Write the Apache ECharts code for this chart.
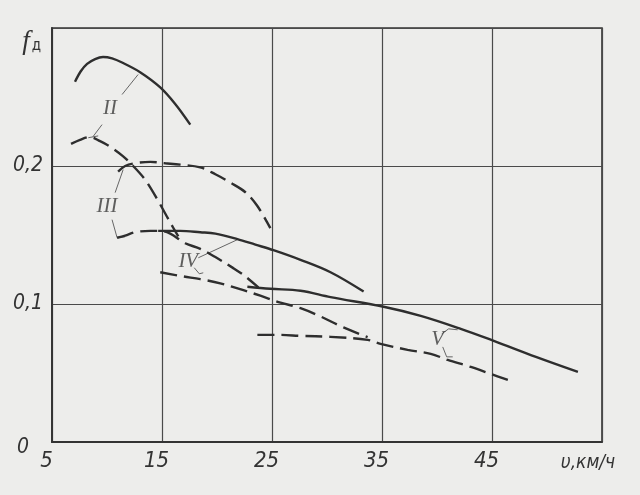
<!DOCTYPE html>
<html>
<head>
<meta charset="utf-8">
<script src="https://cdn.jsdelivr.net/npm/echarts@6/dist/echarts.min.js"></script>
<style>
html,body{margin:0;padding:0;background:#ededeb;}
#c{width:640px;height:495px;}
</style>
</head>
<body>
<div id="c"></div>
<script>
// ---- axis ticks ----
const xTickValues = [5, 15, 25, 35, 45];
const xAxisName = 'υ,км/ч';
const yTickLabels = {0: '0', 1: '0,1', 2: '0,2'};
const yAxisName = ['f', 'д'];

// ---- curves (speed km/h, f_д) ----
const curveII_solid = [[7.09,0.261],[7.6,0.2685],[8.19,0.274],[8.92,0.2775],[9.64,0.279],[10.46,0.278],[11.37,0.275],[13.01,0.268],[14.84,0.257],[16.2,0.245],[17.57,0.230]];
const curveII_dashed = [[6.73,0.216],[7.55,0.219],[8.46,0.221],[9.37,0.218],[10.28,0.214],[11.47,0.207],[12.38,0.200],[13.47,0.190],[14.56,0.176],[15.75,0.159],[16.48,0.149]];
const curveIII_upper = [[11.01,0.196],[11.65,0.200],[12.56,0.202],[13.93,0.203],[15.29,0.202],[16.66,0.201],[18.48,0.199],[19.85,0.194],[21.21,0.188],[22.58,0.181],[23.67,0.171],[24.85,0.155]];
const curveIII_lower = [[10.92,0.148],[11.65,0.1495],[12.56,0.152],[13.93,0.153],[14.84,0.153],[15.75,0.151],[17.11,0.144],[18.48,0.140],[19.85,0.134],[21.48,0.126],[22.58,0.120],[23.76,0.112]];
const curveIV_solid = [[14.65,0.153],[16.66,0.153],[18.48,0.152],[19.85,0.151],[21.85,0.147],[23.49,0.143],[25.13,0.139],[27.59,0.132],[30.32,0.123],[33.33,0.109]];
const curveIV_dashed = [[14.84,0.123],[16.93,0.120],[18.48,0.118],[20.30,0.115],[22.40,0.110],[23.94,0.106],[25.77,0.101],[27.59,0.097],[29.41,0.091],[31.50,0.083],[33.69,0.076]];
const curveV_solid = [[22.76,0.1125],[24.85,0.111],[27.59,0.1096],[30.32,0.105],[35.15,0.098],[38.52,0.0914],[42.16,0.082],[45.16,0.0733],[48.99,0.0617],[52.81,0.0508]];
const curveV_dashed = [[23.67,0.0776],[25.77,0.0776],[27.59,0.0769],[30.32,0.0762],[33.69,0.074],[34.87,0.0711],[37.33,0.0668],[39.43,0.0639],[40.97,0.0595],[43.07,0.0544],[44.89,0.0493],[46.44,0.045]];

// ---- curve labels and leader lines ----
const curveLabels = [
  {name: 'II', value: [10.28, 0.242]},
  {name: 'III', value: [10.01, 0.1705]},
  {name: 'IV', value: [17.39, 0.1306]},
  {name: 'V', value: [40.06, 0.074]}
];
const leaders = [
  [[11.37,0.2518],[12.83,0.2663]],
  [[9.55,0.230],[8.73,0.2213]],
  [[8.3,0.2205],[9.2,0.2218]],
  [[10.74,0.1807],[11.47,0.1974]],
  [[10.46,0.1611],[10.92,0.148],[11.65,0.1487]],
  [[18.30,0.1335],[21.85,0.1466]],
  [[17.93,0.1263],[18.39,0.1219],[18.75,0.1226]],
  [[40.43,0.0784],[41.06,0.082],[41.88,0.0813]],
  [[40.52,0.0689],[40.88,0.0617],[41.43,0.0617]]
];

const FONT = "'Liberation Sans Narrow', 'DejaVu Sans Condensed', sans-serif";
const INK = '#2e2e2e';
const DASH = [17, 7];

function curve(data, dashed) {
  return {
    type: 'line', data: data, smooth: 0.35, symbol: 'none', silent: true,
    lineStyle: {color: INK, width: 2.4, type: dashed ? DASH : 'solid', cap: 'butt'},
    z: 3
  };
}

const series = [
  curve(curveII_solid, false),
  curve(curveII_dashed, true),
  curve(curveIII_upper, true),
  curve(curveIII_lower, true),
  curve(curveIV_solid, false),
  curve(curveIV_dashed, true),
  curve(curveV_solid, false),
  curve(curveV_dashed, true)
];
leaders.forEach(function (seg) {
  series.push({
    type: 'line', data: seg, symbol: 'none', silent: true,
    lineStyle: {color: '#666', width: 1}, z: 2
  });
});
series.push({
  type: 'scatter', data: curveLabels, symbolSize: 1, silent: true,
  itemStyle: {color: 'rgba(0,0,0,0)'},
  label: {show: true, position: 'inside', formatter: '{b}', color: '#3a3a3a',
    fontFamily: "'Liberation Serif', serif", fontStyle: 'italic', fontSize: 21},
  z: 4
});

const chart = echarts.init(document.getElementById('c'), null, {renderer: 'canvas'});
chart.setOption({
  animation: false,
  backgroundColor: '#ededeb',
  grid: {left: 52, top: 28, right: 38, bottom: 53, show: true, borderColor: '#333', borderWidth: 1.6, backgroundColor: 'rgba(0,0,0,0)'},
  xAxis: {
    type: 'value', min: 5, max: 55, interval: 10,
    axisLine: {show: true, lineStyle: {color: '#333', width: 1.8}},
    axisTick: {show: false},
    splitLine: {show: true, lineStyle: {color: '#4a4a4a', width: 1.2}},
    axisLabel: {
      margin: 8, color: '#333',
      formatter: function (v) {
        if (Math.abs(v - 55) < 1e-6) return '{n|' + xAxisName + '}';
        return xTickValues.indexOf(Math.round(v)) >= 0 ? '{t|' + v + '}' : '';
      },
      rich: {
        t: {fontFamily: FONT, fontStyle: 'italic', fontSize: 22, color: '#333', padding: [0, 11, 0, 0]},
        n: {fontFamily: FONT, fontStyle: 'italic', fontSize: 19, color: '#333', padding: [4, 28, 0, 0]}
      }
    }
  },
  yAxis: {
    type: 'value', min: 0, max: 0.3, interval: 0.1,
    axisLine: {show: true, lineStyle: {color: '#333', width: 1.8}},
    axisTick: {show: false},
    splitLine: {show: true, lineStyle: {color: '#4a4a4a', width: 1.2}},
    axisLabel: {
      margin: 9, color: '#333',
      formatter: function (v) {
        const k = Math.round(v * 10);
        if (k === 3) return '{f|' + yAxisName[0] + '}{d|' + yAxisName[1] + '}';
        if (k === 0) return '{z|' + yTickLabels[0] + '}';
        return '{t|' + yTickLabels[k] + '}';
      },
      rich: {
        t: {fontFamily: FONT, fontStyle: 'italic', fontSize: 21, color: '#333'},
        z: {fontFamily: FONT, fontStyle: 'italic', fontSize: 21, color: '#333', padding: [12, 14, 0, 0]},
        f: {fontFamily: "'Liberation Serif', serif", fontStyle: 'italic', fontSize: 27, color: '#333', padding: [28, 2, 0, 0]},
        d: {fontFamily: FONT, fontSize: 15, color: '#333', padding: [36, 2, 0, 0]}
      }
    }
  },
  series: series
});
</script>
</body>
</html>
